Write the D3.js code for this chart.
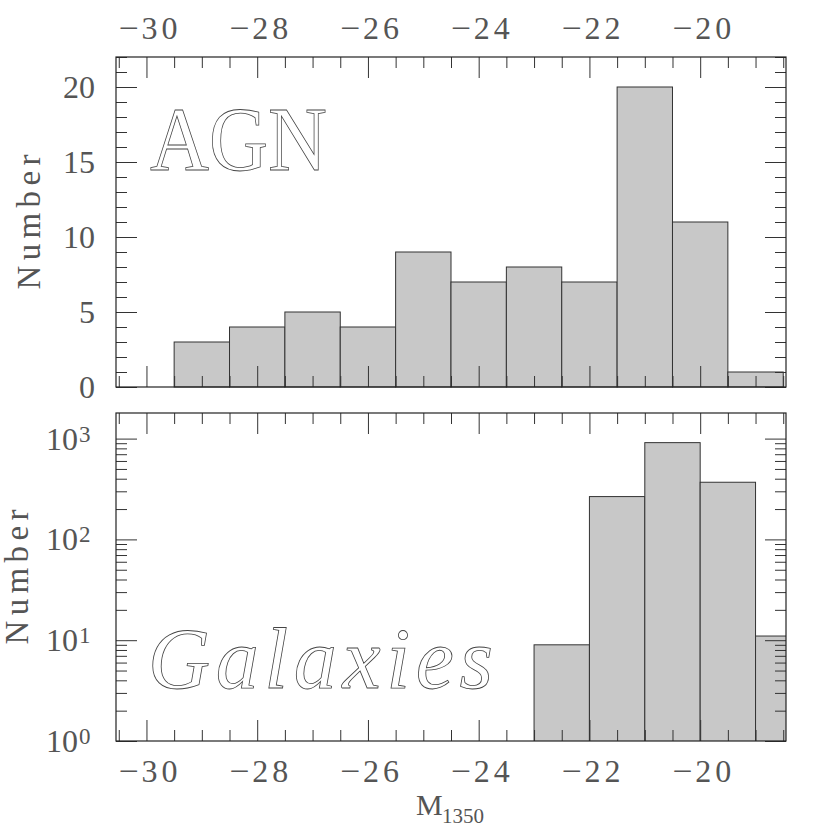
<!DOCTYPE html>
<html>
<head>
<meta charset="utf-8">
<script src="https://cdn.jsdelivr.net/npm/d3@7"></script>
<style>
  html, body { margin: 0; padding: 0; background: #fff; }
  text { font-family: "Liberation Serif", "Times New Roman", serif; fill: #555; }
</style>
</head>
<body>
<svg id="chart" width="830" height="830"></svg>
<script>
// ---- data ----
const agnBinStarts = [-29.5, -28.5, -27.5, -26.5, -25.5, -24.5, -23.5, -22.5, -21.5, -20.5, -19.5];
const agnCounts    = [3, 4, 5, 4, 9, 7, 8, 7, 20, 11, 1];
const galBinStarts = [-23, -22, -21, -20, -19];
const galCounts    = [9, 266, 912, 369, 11];
const binWidth = 1;
const xMajorTicks = [-30, -28, -26, -24, -22, -20];
const topYMajor = [0, 5, 10, 15, 20];
const botYMajor = [1, 10, 100, 1000];
const botYLabels = ["0", "1", "2", "3"];
const topLabel = "AGN";
const botLabel = "Galaxies";

// ---- layout ----
const L = 116, R = 786;
const topP = {t: 57, b: 387};
const botP = {t: 413, b: 741};

const svg = d3.select("#chart");
const x = d3.scaleLinear().domain([-30.55, -18.45]).range([L, R]);
const yTop = d3.scaleLinear().domain([0, 22]).range([topP.b, topP.t]);
const yBot = d3.scaleLog().domain([1, Math.pow(10, 3.254)]).range([botP.b, botP.t]);

const xMinor = d3.range(-30.5, -18.4, 0.5).filter(v => !xMajorTicks.includes(v));
const topYMinor = d3.range(1, 23).filter(v => v % 5 !== 0);
const botYMinor = [];
[1, 10, 100].forEach(d => { for (let k = 2; k <= 9; k++) botYMinor.push(k * d); });

const MAJ = 21, MIN = 11;
const tickColor = "#333";

svg.append("defs").append("clipPath").attr("id", "clipBot")
  .append("rect").attr("x", L).attr("y", botP.t).attr("width", R - L).attr("height", botP.b - botP.t);

// ---- bars ----
const gTop = svg.append("g");
gTop.selectAll("rect").data(agnCounts).join("rect")
  .attr("x", (d, i) => x(agnBinStarts[i]))
  .attr("width", (d, i) => x(agnBinStarts[i] + binWidth) - x(agnBinStarts[i]))
  .attr("y", d => yTop(d))
  .attr("height", d => yTop(0) - yTop(d))
  .attr("fill", "#c8c8c8").attr("stroke", "#333").attr("stroke-width", 1);

const gBot = svg.append("g").attr("clip-path", "url(#clipBot)");
gBot.selectAll("rect").data(galCounts).join("rect")
  .attr("x", (d, i) => x(galBinStarts[i]))
  .attr("width", (d, i) => x(galBinStarts[i] + binWidth) - x(galBinStarts[i]))
  .attr("y", d => yBot(d))
  .attr("height", d => yBot(1) - yBot(d) + 2)
  .attr("fill", "#c8c8c8").attr("stroke", "#333").attr("stroke-width", 1);

// ---- axes (ticks pointing inward on all four sides) ----
function ticksAxis(axisFn, scale, values, size, tx, ty) {
  const g = svg.append("g").attr("transform", `translate(${tx},${ty})`)
    .call(axisFn(scale).tickValues(values).tickSize(size).tickFormat(""));
  g.select(".domain").remove();
  g.selectAll("line").attr("stroke", tickColor).attr("stroke-width", 1);
}
function panelTicks(y, yMaj, yMin, p) {
  ticksAxis(d3.axisTop, x, xMajorTicks, MAJ, 0, p.b);
  ticksAxis(d3.axisTop, x, xMinor, MIN, 0, p.b);
  ticksAxis(d3.axisBottom, x, xMajorTicks, MAJ, 0, p.t);
  ticksAxis(d3.axisBottom, x, xMinor, MIN, 0, p.t);
  ticksAxis(d3.axisRight, y, yMaj, MAJ, L, 0);
  ticksAxis(d3.axisRight, y, yMin, MIN, L, 0);
  ticksAxis(d3.axisLeft, y, yMaj, MAJ, R, 0);
  ticksAxis(d3.axisLeft, y, yMin, MIN, R, 0);
}
panelTicks(yTop, topYMajor, topYMinor, topP);
panelTicks(yBot, botYMajor, botYMinor, botP);

// frames
[topP, botP].forEach(p => {
  svg.append("rect").attr("x", L).attr("y", p.t).attr("width", R - L).attr("height", p.b - p.t)
    .attr("fill", "none").attr("stroke", "#222").attr("stroke-width", 1.2);
});

// ---- tick labels ----
function xLabels(baseline) {
  const g = svg.append("g").selectAll("g").data(xMajorTicks).join("g");
  g.append("text").attr("x", d => x(d) - 8).attr("y", baseline).attr("text-anchor", "end")
    .attr("font-size", 32).attr("textLength", 20).attr("lengthAdjust", "spacingAndGlyphs")
    .text("\u2212");
  g.append("text").attr("x", d => x(d) - 5).attr("y", baseline).attr("text-anchor", "start")
    .attr("font-size", 32).attr("textLength", 36).attr("lengthAdjust", "spacing")
    .text(d => Math.abs(d));
}
xLabels(39);
xLabels(782);

svg.append("g").selectAll("text").data(topYMajor).join("text")
  .attr("x", 95).attr("y", d => yTop(d) + 11).attr("text-anchor", "end")
  .attr("font-size", 32).text(d => d);

const yl = svg.append("g").selectAll("g").data(botYMajor).join("g");
yl.append("text").attr("x", 78).attr("y", d => yBot(d) + 11).attr("text-anchor", "end")
  .attr("font-size", 32).text("10");
yl.append("text").attr("x", 79).attr("y", d => yBot(d) + 3).attr("text-anchor", "start")
  .attr("font-size", 23).text((d, i) => botYLabels[i]);

// ---- axis titles ----
svg.append("text").attr("transform", `translate(40,${(topP.t + topP.b) / 2}) rotate(-90)`)
  .attr("text-anchor", "middle").attr("font-size", 33)
  .attr("textLength", 135).attr("lengthAdjust", "spacing").text("Number");
svg.append("text").attr("transform", `translate(28,${(botP.t + botP.b) / 2}) rotate(-90)`)
  .attr("text-anchor", "middle").attr("font-size", 33)
  .attr("textLength", 135).attr("lengthAdjust", "spacing").text("Number");

const xt = svg.append("text").attr("x", 416).attr("y", 815).attr("font-size", 30);
xt.append("tspan").text("M");
xt.append("tspan").attr("x", 442).attr("y", 823).attr("font-size", 21).text("1350");

// ---- panel labels (outlined) ----
svg.append("text").attr("x", 150).attr("y", 170).attr("font-size", 92)
  .attr("textLength", 177).attr("lengthAdjust", "spacingAndGlyphs")
  .style("fill", "#fff").attr("stroke", "#444").attr("stroke-width", 0.8)
  .text(topLabel);
svg.append("text").attr("x", 148).attr("y", 688).attr("font-size", 86).attr("font-style", "italic")
  .attr("textLength", 345).attr("lengthAdjust", "spacing")
  .style("fill", "#fff").attr("stroke", "#444").attr("stroke-width", 0.8)
  .text(botLabel);
</script>
</body>
</html>
